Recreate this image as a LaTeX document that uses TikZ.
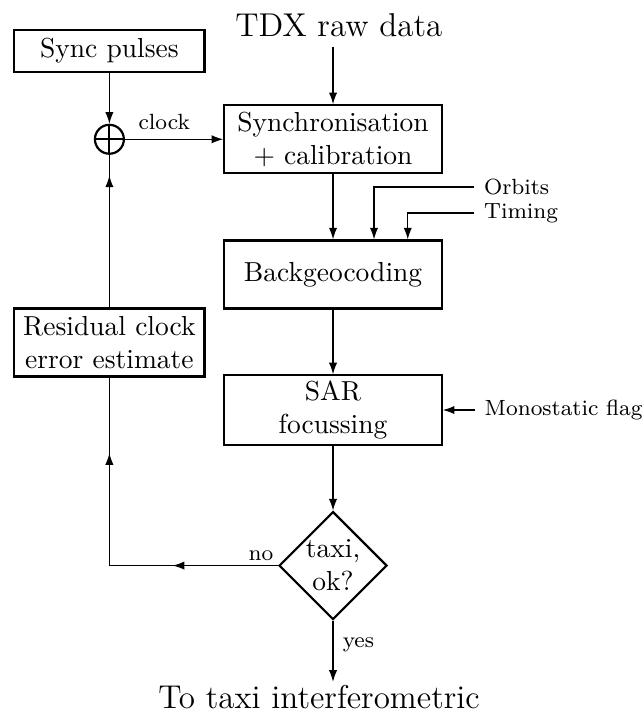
\documentclass[tikz,border=0pt]{standalone}
\usepackage{tikz}
\usetikzlibrary{arrows.meta,positioning,shapes.geometric,decorations.markings,calc}

\begin{document}
\begin{tikzpicture}[
  >={Latex[length=4.2pt,width=3pt]},
  block/.style={draw,thick,minimum width=2.78cm,minimum height=0.87cm,
                inner sep=2pt,align=center},
  sideblock/.style={block,minimum width=2.43cm},
  sumnode/.style={circle,draw,thick,minimum size=0.37cm,inner sep=0pt,
    path picture={\draw[thick] (path picture bounding box.north) -- (path picture bounding box.south)
                  (path picture bounding box.west) -- (path picture bounding box.east);}},
  decision/.style={diamond,draw,thick,aspect=1,minimum size=1.38cm,inner sep=0pt,align=center},
  ext/.style={font=\footnotesize,anchor=west},
  lbl/.style={font=\footnotesize},
  midarr/.style={decoration={markings,mark=at position #1 with {\arrow{>}}},postaction={decorate}},
  midarrs/.style 2 args={decoration={markings,mark=at position #1 with {\arrow{>}},
                         mark=at position #2 with {\arrow{>}}},postaction={decorate}}
]
\useasboundingbox (0,0) rectangle (8.205,-9.112);
% Main chain
\node[font=\large,anchor=base] (tdx) at (4.33,-0.469) {TDX raw data};
\node[block] (syn) at (4.256,-1.78) {Synchronisation\\+ calibration};
\node[block] (bgc) at (4.256,-3.508) {Backgeocoding};
\node[block] (sar) at (4.256,-5.24) {SAR\\focussing};
\node[decision] (dec) at (4.256,-7.228) {taxi,\\ok?};
\node[font=\large,anchor=base,inner sep=1pt] (out) at (4.077,-9.052) {To taxi interferometric};
% Clock loop
\node[sideblock,minimum height=0.537cm] (pulses) at (1.398,-0.649) {Sync pulses};
\node[sumnode] (sum) at (1.398,-1.78) {};
\node[sideblock] (res) at (1.398,-4.377) {Residual clock\\error estimate};
% External inputs
\node[ext] (orbits) at (6.063,-2.39) {Orbits};
\node[ext] (timing) at (6.063,-2.722) {Timing};
\node[ext] (mono) at (6.07,-5.24) {Monostatic flag};
% Connectors
\draw[->] (tdx.south -| syn.north) -- (syn.north);
\draw[->] (syn) -- (bgc);
\draw[->] (bgc) -- (sar);
\draw[->] (sar) -- (dec);
\draw[->] (dec.south) -- node[lbl,right,pos=0.4] {yes} (dec.south |- out.north);
\draw[->] (orbits.west) -| ([xshift=0.524cm]bgc.north);
\draw[->] (timing.west) -| ([xshift=0.955cm]bgc.north);
\draw[->] (mono) -- (sar);
\draw[->] (pulses) -- (sum);
\draw[->] (sum) -- node[lbl,above,pos=0.4] {clock} (syn);
\draw[midarr=0.864] (res.north) -- (sum.south);
\draw[midarrs={0.295}{0.788}] (dec.west) node[lbl,above left,inner sep=1.5pt] {no} -| (res.south);
\end{tikzpicture}
\end{document}
